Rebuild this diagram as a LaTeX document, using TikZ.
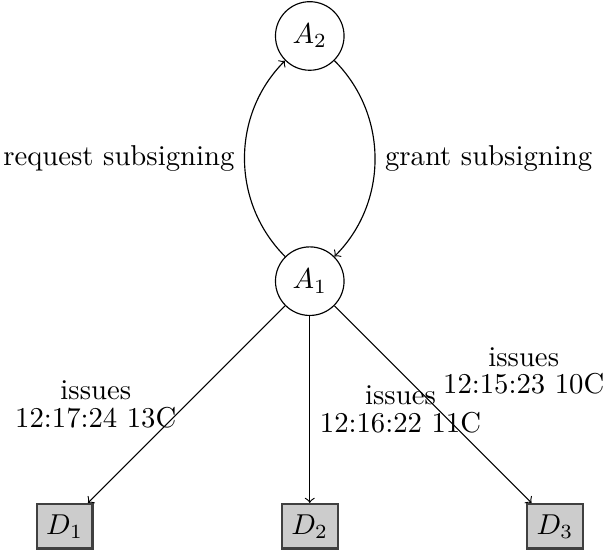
\documentclass[tikz,border=0pt]{standalone}
\begin{document}
\begin{tikzpicture}[
  agent/.style={circle,draw},
  device/.style={rectangle,draw=darkgray,thick,fill=gray!40,minimum height=15.5pt},
  lbl/.style={align=center}]
\useasboundingbox (-3.79,-3.33) rectangle (3.60,3.44);
\node[agent] (A2) at (0,3) {$A_2$};
\node[agent] (A1) at (0,0) {$A_1$};
\node[device] (D1) at (-3,-3) {$D_1$};
\node[device] (D2) at (0,-3) {$D_2$};
\node[device] (D3) at (3,-3) {$D_3$};
\draw[->] (A1) to[bend left=45] node[midway,left] {request subsigning} (A2);
\draw[->] (A2) to[bend left=45] node[midway,right] {grant subsigning} (A1);
\draw[->] (A1) -- node[midway,left,lbl] {issues\\[-2.5pt]12:17:24 13C} (D1);
\draw[->] (A1) -- node[midway,right,lbl] {issues\\[-2.5pt]12:16:22 11C} (D2);
\draw[->] (A1) -- node[midway,above right,lbl] {issues\\[-2.5pt]12:15:23 10C} (D3);
\end{tikzpicture}
\end{document}
